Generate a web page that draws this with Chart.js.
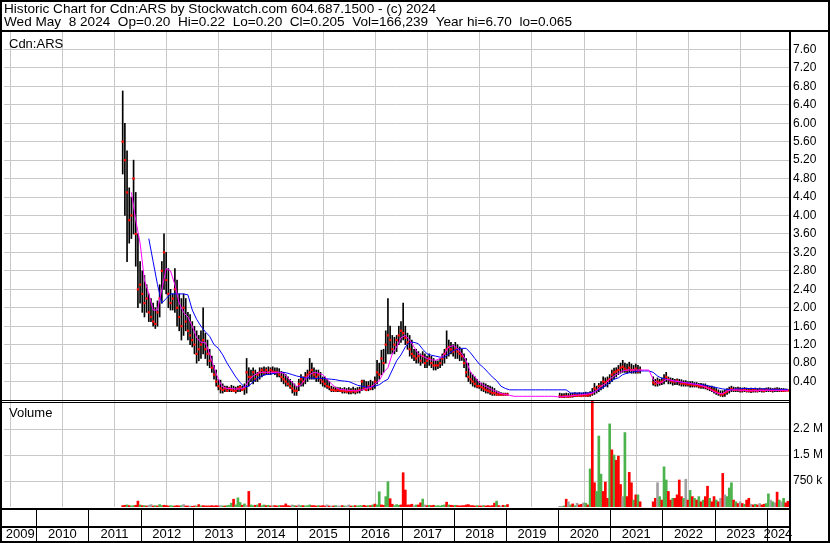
<!DOCTYPE html>
<html>
<head>
<meta charset="utf-8">
<title>Cdn:ARS historic chart</title>
<script src="https://cdn.jsdelivr.net/npm/chart.js@4.4.1/dist/chart.umd.min.js"></script>
<style>
  html, body { margin: 0; padding: 0; background: #fff; }
  canvas { display: block; }
</style>
</head>
<body>
<canvas id="myChart" width="830" height="543"></canvas>
<script>
const titleLine1 = 'Historic Chart for Cdn:ARS by Stockwatch.com 604.687.1500 - (c) 2024';
const titleLine2 = 'Wed May  8 2024  Op=0.20  Hi=0.22  Lo=0.20  Cl=0.205  Vol=166,239  Year hi=6.70  lo=0.065';
const symbolLabel = 'Cdn:ARS';
const volumeLabel = 'Volume';

const years = [2009, 2010, 2011, 2012, 2013, 2014, 2015, 2016, 2017, 2018, 2019, 2020, 2021, 2022, 2023, 2024];
const axisStart = 2009.381;
const axisEnd = 2024.426;

const priceTicks = [0.4, 0.8, 1.2, 1.6, 2.0, 2.4, 2.8, 3.2, 3.6, 4.0, 4.4, 4.8, 5.2, 5.6, 6.0, 6.4, 6.8, 7.2, 7.6];
const volumeTicks = [750000, 1500000, 2250000];
const volumeTickLabels = ['750 k', '1.5 M', '2.2 M'];

// twice-monthly samples starting mid Aug 2011
const firstSample = 2011.656;
const samplesPerYear = 24;

const priceHigh = [
  6.70, 6.00, 5.40, 4.60, 4.40, 5.20, 4.50, 3.60, 3.00, 2.80,
  2.70, 2.50, 2.30, 2.20, 2.10, 2.00, 2.15, 2.50, 3.00, 3.60,
  3.20, 2.85, 2.40, 2.30, 2.85, 2.60, 2.30, 2.20, 2.30, 2.20,
  1.90, 1.85, 1.70, 1.60, 1.50, 1.40, 1.50, 2.00, 1.45, 1.30,
  1.10, 0.95, 0.75, 0.65, 0.45, 0.43, 0.35, 0.30, 0.30, 0.28,
  0.32, 0.30, 0.28, 0.30, 0.32, 0.30, 0.35, 0.90, 0.70, 0.65,
  0.70, 0.65, 0.60, 0.70, 0.70, 0.72, 0.70, 0.72, 0.70, 0.72,
  0.70, 0.70, 0.68, 0.62, 0.60, 0.55, 0.50, 0.45, 0.40, 0.35,
  0.30, 0.45, 0.55, 0.50, 0.60, 0.65, 0.90, 0.80, 0.70, 0.65,
  0.65, 0.60, 0.50, 0.50, 0.45, 0.40, 0.30, 0.28, 0.28, 0.27,
  0.27, 0.25, 0.27, 0.25, 0.27, 0.25, 0.28, 0.25, 0.27, 0.28,
  0.43, 0.43, 0.40, 0.40, 0.43, 0.40, 0.50, 0.86, 0.80, 1.08,
  1.10, 1.50, 2.20, 1.60, 1.40, 1.36, 1.40, 1.60, 1.70, 2.10,
  1.60, 1.45, 1.40, 1.30, 1.10, 1.10, 1.05, 1.00, 1.05, 1.00,
  0.95, 1.00, 0.95, 0.90, 0.85, 0.85, 0.90, 1.00, 1.10, 1.50,
  1.30, 1.25, 1.20, 1.25, 1.20, 1.15, 1.10, 1.00, 0.90, 0.80,
  0.60, 0.55, 0.50, 0.45, 0.40, 0.37, 0.37, 0.35, 0.32, 0.30,
  0.28, 0.25, 0.20, 0.18, 0.16, 0.15, 0.15, 0.15,
  // halted
  null, null, null, null, null, null, null, null, null, null,
  null, null, null, null, null, null, null, null, null, null,
  null, null, null,
  0.15, 0.14, 0.14, 0.15, 0.14, 0.15, 0.15, 0.16, 0.15, 0.16,
  0.15, 0.16, 0.17, 0.16, 0.18, 0.25, 0.36, 0.30, 0.36, 0.40,
  0.50, 0.48, 0.50, 0.55, 0.65, 0.69, 0.70, 0.75, 0.80, 0.86,
  0.80, 0.78, 0.82, 0.78, 0.75, 0.78, 0.75, 0.72,
  null, null, null, null, null,
  0.50, 0.45, 0.48, 0.45, 0.48, 0.55, 0.60,
  0.50, 0.48, 0.47, 0.45, 0.46, 0.45, 0.44, 0.42, 0.42, 0.40,
  0.40, 0.40, 0.38, 0.38, 0.36, 0.36, 0.35, 0.35, 0.32, 0.30,
  0.30, 0.28, 0.25, 0.22, 0.20, 0.20, 0.22, 0.25, 0.28, 0.30,
  0.28, 0.27, 0.28, 0.27, 0.26, 0.27, 0.26, 0.25, 0.26, 0.25,
  0.26, 0.25, 0.26, 0.25, 0.25, 0.26, 0.27, 0.26, 0.25, 0.26,
  0.27, 0.26, 0.25, 0.25, 0.24, 0.22
];

const priceLow = [
  4.90, 4.00, 3.00, 3.40, 3.50, 3.60, 2.90, 2.00, 2.10, 1.90,
  1.80, 1.90, 1.70, 1.70, 1.60, 1.55, 1.60, 1.80, 2.10, 2.40,
  2.30, 2.00, 1.95, 1.95, 1.90, 1.60, 1.50, 1.30, 1.40, 1.50,
  1.30, 1.20, 1.15, 1.00, 0.80, 0.85, 0.90, 1.00, 0.90, 0.75,
  0.70, 0.60, 0.45, 0.30, 0.22, 0.15, 0.15, 0.18, 0.18, 0.18,
  0.18, 0.18, 0.15, 0.18, 0.18, 0.20, 0.12, 0.15, 0.30, 0.40,
  0.35, 0.40, 0.40, 0.45, 0.50, 0.55, 0.55, 0.55, 0.55, 0.58,
  0.55, 0.50, 0.50, 0.40, 0.35, 0.30, 0.30, 0.25, 0.15, 0.10,
  0.10, 0.20, 0.30, 0.30, 0.35, 0.40, 0.45, 0.45, 0.45, 0.40,
  0.40, 0.35, 0.30, 0.28, 0.25, 0.22, 0.18, 0.18, 0.18, 0.18,
  0.18, 0.15, 0.15, 0.15, 0.13, 0.13, 0.15, 0.13, 0.15, 0.15,
  0.20, 0.22, 0.20, 0.20, 0.22, 0.22, 0.25, 0.35, 0.45, 0.55,
  0.60, 0.80, 1.00, 1.00, 1.00, 1.00, 1.05, 1.20, 1.25, 1.30,
  1.20, 1.10, 0.95, 0.90, 0.85, 0.80, 0.80, 0.75, 0.80, 0.70,
  0.70, 0.75, 0.70, 0.65, 0.65, 0.68, 0.70, 0.75, 0.80, 0.90,
  0.95, 1.00, 0.95, 0.90, 0.90, 0.85, 0.86, 0.70, 0.50, 0.40,
  0.35, 0.30, 0.28, 0.26, 0.25, 0.20, 0.18, 0.15, 0.15, 0.12,
  0.10, 0.10, 0.10, 0.10, 0.10, 0.10, 0.10, 0.10,
  null, null, null, null, null, null, null, null, null, null,
  null, null, null, null, null, null, null, null, null, null,
  null, null, null,
  0.05, 0.05, 0.05, 0.06, 0.05, 0.06, 0.06, 0.07, 0.07, 0.08,
  0.07, 0.08, 0.08, 0.07, 0.08, 0.10, 0.12, 0.15, 0.18, 0.22,
  0.25, 0.30, 0.28, 0.35, 0.40, 0.45, 0.50, 0.55, 0.58, 0.60,
  0.60, 0.58, 0.60, 0.58, 0.58, 0.58, 0.58, 0.58,
  null, null, null, null, null,
  0.32, 0.30, 0.30, 0.32, 0.33, 0.35, 0.40,
  0.35, 0.35, 0.32, 0.33, 0.33, 0.32, 0.30, 0.30, 0.30, 0.30,
  0.28, 0.28, 0.28, 0.28, 0.26, 0.25, 0.25, 0.24, 0.22, 0.20,
  0.18, 0.15, 0.12, 0.10, 0.08, 0.07, 0.08, 0.12, 0.15, 0.18,
  0.18, 0.18, 0.18, 0.17, 0.17, 0.18, 0.17, 0.17, 0.16, 0.17,
  0.17, 0.17, 0.18, 0.17, 0.17, 0.18, 0.18, 0.18, 0.17, 0.18,
  0.18, 0.18, 0.18, 0.18, 0.19, 0.20
];

const priceClose = [
  5.60, 5.20, 4.50, 3.90, 4.00, 4.80, 3.60, 2.40, 2.50, 2.30,
  2.10, 2.20, 1.90, 1.80, 1.70, 1.65, 1.90, 2.20, 2.80, 3.20,
  2.60, 2.30, 2.10, 2.20, 2.40, 2.00, 1.80, 1.60, 2.00, 1.70,
  1.50, 1.40, 1.30, 1.20, 1.00, 1.10, 1.20, 1.30, 1.10, 1.00,
  0.85, 0.70, 0.55, 0.40, 0.30, 0.25, 0.22, 0.25, 0.20, 0.25,
  0.22, 0.20, 0.20, 0.25, 0.28, 0.22, 0.25, 0.60, 0.50, 0.50,
  0.60, 0.45, 0.55, 0.60, 0.65, 0.60, 0.65, 0.60, 0.65, 0.62,
  0.60, 0.60, 0.55, 0.50, 0.45, 0.40, 0.35, 0.30, 0.25, 0.20,
  0.20, 0.35, 0.45, 0.40, 0.50, 0.55, 0.60, 0.65, 0.55, 0.50,
  0.55, 0.45, 0.40, 0.35, 0.30, 0.28, 0.22, 0.22, 0.20, 0.22,
  0.20, 0.20, 0.20, 0.18, 0.20, 0.18, 0.20, 0.18, 0.20, 0.22,
  0.40, 0.25, 0.22, 0.30, 0.25, 0.30, 0.40, 0.60, 0.55, 0.90,
  0.80, 1.20, 1.40, 1.30, 1.10, 1.20, 1.30, 1.40, 1.50, 1.45,
  1.35, 1.25, 1.10, 1.00, 0.95, 0.90, 0.95, 0.85, 0.95, 0.80,
  0.85, 0.90, 0.80, 0.75, 0.75, 0.75, 0.80, 0.90, 1.00, 1.10,
  1.15, 1.10, 1.05, 1.10, 1.05, 1.00, 0.95, 0.80, 0.60, 0.50,
  0.45, 0.40, 0.35, 0.30, 0.30, 0.28, 0.25, 0.22, 0.20, 0.18,
  0.15, 0.15, 0.12, 0.12, 0.12, 0.12, 0.12, 0.12,
  null, null, null, null, null, null, null, null, null, null,
  null, null, null, null, null, null, null, null, null, null,
  null, null, null,
  0.08, 0.07, 0.08, 0.08, 0.07, 0.08, 0.09, 0.10, 0.09, 0.10,
  0.09, 0.10, 0.10, 0.10, 0.12, 0.15, 0.25, 0.22, 0.30, 0.30,
  0.40, 0.38, 0.42, 0.45, 0.55, 0.60, 0.62, 0.65, 0.70, 0.72,
  0.68, 0.65, 0.70, 0.65, 0.65, 0.68, 0.62, 0.65,
  null, null, null, null, null,
  0.38, 0.35, 0.40, 0.38, 0.40, 0.45, 0.50,
  0.45, 0.42, 0.40, 0.40, 0.42, 0.38, 0.36, 0.36, 0.35, 0.34,
  0.34, 0.33, 0.32, 0.32, 0.30, 0.30, 0.30, 0.28, 0.26, 0.25,
  0.22, 0.20, 0.18, 0.15, 0.12, 0.12, 0.15, 0.18, 0.22, 0.24,
  0.22, 0.22, 0.23, 0.21, 0.21, 0.22, 0.20, 0.20, 0.20, 0.21,
  0.21, 0.20, 0.22, 0.21, 0.20, 0.22, 0.22, 0.21, 0.21, 0.22,
  0.22, 0.21, 0.21, 0.20, 0.21, 0.205
];

// thousands of shares
const volumeK = [
  40, 50, 60, 40, 30, 40, 50, 170, 60, 40,
  40, 30, 50, 70, 30, 40, 30, 70, 40, 50,
  40, 30, 40, 30, 30, 40, 30, 40, 70, 30,
  30, 30, 20, 30, 30, 70, 30, 40, 30, 30,
  30, 40, 30, 40, 30, 40, 30, 30, 40, 50,
  110, 225, 60, 265, 130, 50, 90, 40, 450, 60,
  40, 50, 60, 100, 40, 60, 40, 50, 30, 40,
  40, 30, 40, 40, 40, 90, 40, 30, 60, 40,
  30, 60, 40, 40, 30, 40, 60, 40, 40, 30,
  40, 30, 40, 30, 60, 30, 30, 30, 40, 30,
  30, 40, 30, 30, 60, 30, 30, 40, 30, 40,
  40, 50, 30, 40, 40, 60, 85, 60, 440, 60,
  50, 300, 730, 240, 80, 40, 70, 50, 60, 990,
  490, 60, 60, 80, 40, 60, 60, 120, 230, 60,
  40, 50, 40, 50, 30, 40, 30, 50, 60, 140,
  60, 50, 40, 50, 40, 30, 40, 40, 60, 70,
  40, 40, 30, 40, 30, 30, 40, 30, 40, 30,
  40, 110, 170, 40, 30, 50, 40, 70,
  null, null, null, null, null, null, null, null, null, null,
  null, null, null, null, null, null, null, null, null, null,
  null, null, null,
  20, 20, 30, 225, 150, 60, 90, 40, 110, 60,
  80, 120, 110, 60, 1100, 3050, 700, 450, 2050, 950,
  450, 720, 250, 2400, 1650, 1500, 1350, 1470, 650, 300,
  2150, 300, 1000, 700, 200, 350, 350, 150,
  null, null, null, null, null,
  150, 250, 700, 300, 200, 1160, 780,
  450, 200, 250, 250, 350, 780, 300, 250, 800, 200,
  480, 300, 250, 200, 300, 150, 200, 300, 600, 250,
  150, 300, 200, 150, 250, 970, 350, 300, 550, 700,
  200, 150, 100, 150, 100, 80, 200, 250, 80, 60,
  80, 60, 100, 60, 80, 100, 380, 200, 150, 120,
  430, 200, 150, 250, 120, 166
];

// u = up week, d = down week, n = unchanged
const volumeSide = [
  'dduduuddud', 'udnnduduud', 'dduudddund', 'dnddududdd', 'dddddnuduu',
  'uduuudundu', 'ududuududn', 'ddudddddnu', 'dnuduuuddd', 'udddndndun',
  'ndunnduduu', 'uddududuud', 'duudduuudd', 'ddddnuddun', 'dudduuuuud',
  'uddudddddd', 'dddudduddd', 'ddudndud',
  '.......................',
  'nnudnudund', 'dnududduuu', 'dddududddn', 'udddudud', '.....',
  'ddnuduu', 'dduddddund', 'ududududdu', 'ddudndnuuu', 'dudnduddnd',
  'udndduunun', 'dunudd'
].join('');

// monthly moving averages
const avgFirst = 2011.656;
const avgPerYear = 12;

const avgFast = [
  null, null, 4.5, 3.9, 3.4, 2.6, 2.3, 1.95, 1.95, 2.4,
  2.85, 2.8, 2.5, 2.1, 1.9, 1.8, 1.6, 1.35, 1.25, 1.25,
  1.0, 0.7, 0.45, 0.28, 0.25, 0.25, 0.24, 0.24, 0.27, 0.42,
  0.52, 0.58, 0.6, 0.6, 0.6, 0.6, 0.6, 0.58, 0.48, 0.38,
  0.28, 0.33, 0.45, 0.55, 0.6, 0.58, 0.55, 0.45, 0.35, 0.27,
  0.23, 0.22, 0.21, 0.2, 0.2, 0.22, 0.25, 0.27, 0.35, 0.42,
  0.6, 0.7, 1.0, 1.15, 1.35, 1.4, 1.3, 1.15, 1.0, 0.95,
  0.9, 0.87, 0.86, 0.9, 1.0, 1.15, 1.18, 1.12, 1.0, 0.85,
  0.6, 0.5, 0.38, 0.32, 0.27, 0.22, 0.18, 0.14, 0.12, 0.1,
  0.08, 0.08, 0.08, 0.08, 0.08, 0.08, 0.08, 0.08, 0.08, 0.08,
  0.07, 0.07, 0.08, 0.09, 0.1, 0.11, 0.12, 0.13, 0.15, 0.2,
  0.3, 0.35, 0.45, 0.52, 0.58, 0.63, 0.65, 0.65, 0.65, 0.65,
  0.65, 0.65, 0.45, 0.36, 0.38, 0.45, 0.43, 0.41, 0.4, 0.38,
  0.37, 0.35, 0.34, 0.32, 0.28, 0.24, 0.18, 0.14, 0.14, 0.2,
  0.22, 0.22, 0.21, 0.21, 0.2, 0.2, 0.2, 0.21, 0.21, 0.21,
  0.21, 0.21, 0.21, 0.21
];

const avgSlow = [
  null, null, null, null, null, null, 3.5, 3.0, 2.5, 2.1,
  2.2, 2.3, 2.3, 2.3, 2.3, 2.28, 1.95, 1.75, 1.6, 1.48,
  1.38, 1.2, 1.12, 0.98, 0.8, 0.65, 0.5, 0.38, 0.28, 0.3,
  0.4, 0.47, 0.52, 0.55, 0.56, 0.58, 0.6, 0.6, 0.58, 0.55,
  0.52, 0.5, 0.48, 0.48, 0.47, 0.47, 0.47, 0.46, 0.45, 0.44,
  0.42, 0.41, 0.4, 0.36, 0.32, 0.3, 0.28, 0.28, 0.3, 0.33,
  0.4, 0.45, 0.65, 0.85, 0.98, 1.15, 1.25, 1.25, 1.22, 1.1,
  1.0, 0.97, 0.95, 0.93, 0.93, 1.0, 1.07, 1.1, 1.12, 1.12,
  1.02, 0.9, 0.78, 0.7, 0.6, 0.5, 0.42, 0.3, 0.25, 0.22,
  0.22, 0.22, 0.22, 0.22, 0.22, 0.22, 0.22, 0.22, 0.22, 0.22,
  0.22, 0.22, 0.22, 0.15, 0.15, 0.15, 0.15, 0.15, 0.16, 0.2,
  0.25, 0.3, 0.38, 0.45, 0.48, 0.55, 0.58, 0.6, 0.62, 0.63,
  0.63, 0.63, 0.6, 0.52, 0.47, 0.45, 0.43, 0.41, 0.39, 0.38,
  0.37, 0.35, 0.34, 0.33, 0.32, 0.3, 0.28, 0.26, 0.24, 0.23,
  0.22, 0.24, 0.24, 0.25, 0.25, 0.25, 0.24, 0.24, 0.24, 0.23,
  0.23, 0.23, 0.23, 0.23
];

const sideColor = { u: 'rgb(76,178,76)', d: 'rgb(255,0,0)', n: 'rgb(160,160,160)' };

let priceBars = [];
let closeMarks = [];
let volumeBars = [];
let volumeColors = [];
priceHigh.forEach((hi, i) => {
  const t = firstSample + i / samplesPerYear;
  if (hi !== null) {
    priceBars.push({ x: t, y: [priceLow[i], hi] });
    closeMarks.push({ x: t, y: priceClose[i] });
  }
  if (volumeK[i] !== null) {
    volumeBars.push({ x: t, y: volumeK[i] * 1000 });
    volumeColors.push(sideColor[volumeSide[i]] || sideColor.n);
  }
});

let fastLine = [];
let slowLine = [];
avgFast.forEach((v, k) => { if (v !== null) fastLine.push({ x: avgFirst + k / avgPerYear, y: v }); });
avgSlow.forEach((v, k) => { if (v !== null) slowLine.push({ x: avgFirst + k / avgPerYear, y: v }); });

const fontFamily = '"Liberation Sans", Arial, sans-serif';
Chart.defaults.font.family = fontFamily;
Chart.defaults.font.size = 12;
Chart.defaults.color = '#000';

// frame, bottom year band and header texts, drawn like the stockwatch image
const chartFrame = {
  id: 'chartFrame',
  afterDraw(chart) {
    const ctx = chart.ctx;
    const xs = chart.scales.x;
    const W = chart.width;
    const H = chart.height;
    const right = Math.round(chart.chartArea.right);
    ctx.save();
    ctx.fillStyle = '#000';
    ctx.fillRect(0, 0, W, 2);
    ctx.fillRect(0, H - 2, W, 2);
    ctx.fillRect(0, 0, 2, H);
    ctx.fillRect(W - 2, 0, 2, H);
    ctx.fillRect(0, 30, W, 2);
    ctx.fillRect(right, 30, 2, H - 30);
    ctx.fillRect(0, 400, right, 1);
    ctx.fillRect(0, 402, right, 1);
    ctx.fillRect(0, 508, right, 2);
    ctx.fillRect(0, 526, right, 2);
    years.forEach(y => {
      if (y <= axisStart) return;
      const px = Math.round(xs.getPixelForValue(y));
      ctx.fillRect(px, 510, 1, H - 512);
    });
    ctx.font = '13px ' + fontFamily;
    ctx.textAlign = 'center';
    ctx.textBaseline = 'middle';
    years.forEach(y => {
      const a = xs.getPixelForValue(Math.max(y, axisStart));
      const b = xs.getPixelForValue(Math.min(y + 1, axisEnd));
      ctx.fillText(String(y), (a + b) / 2, 534);
    });
    ctx.textAlign = 'left';
    ctx.textBaseline = 'alphabetic';
    ctx.font = '13.6px ' + fontFamily;
    ctx.fillText(titleLine1, 4, 13);
    ctx.fillText(titleLine2, 4, 26);
    ctx.font = '13px ' + fontFamily;
    ctx.textBaseline = 'middle';
    ctx.fillText(symbolLabel, 9, 44);
    ctx.fillText(volumeLabel, 9, 413);
    ctx.restore();
  }
};

let ctx = document.getElementById('myChart').getContext('2d');

let arsChart = new Chart(ctx, {
  type: 'bar',
  data: {
    datasets: [
      {
        type: 'line', label: 'avg fast', data: fastLine, yAxisID: 'y',
        borderColor: 'rgb(255,0,255)', borderWidth: 1, pointRadius: 0, tension: 0, order: 0
      },
      {
        type: 'line', label: 'avg slow', data: slowLine, yAxisID: 'y',
        borderColor: 'rgb(0,0,255)', borderWidth: 1, pointRadius: 0, tension: 0, order: 1
      },
      {
        type: 'line', label: 'close', data: closeMarks, yAxisID: 'y', showLine: false,
        pointStyle: 'rect', pointRadius: 1.6, pointBorderWidth: 0,
        pointBackgroundColor: 'rgb(255,0,0)', order: 2
      },
      {
        type: 'bar', label: 'range', data: priceBars, yAxisID: 'y',
        backgroundColor: '#000', barThickness: 1, grouped: false, order: 3
      },
      {
        type: 'bar', label: 'volume', data: volumeBars, yAxisID: 'vol',
        backgroundColor: volumeColors, barThickness: 2, grouped: false, order: 4
      }
    ]
  },
  options: {
    responsive: false,
    animation: false,
    events: [],
    layout: { padding: { top: 31, left: 2, right: 0, bottom: 0 } },
    plugins: {
      legend: { display: false },
      tooltip: { enabled: false }
    },
    scales: {
      x: {
        type: 'linear',
        min: axisStart,
        max: axisEnd,
        offset: false,
        afterFit: s => { s.height = 36; },
        afterBuildTicks: s => { s.ticks = years.slice(1).map(v => ({ value: v })); },
        ticks: { display: false },
        grid: { color: 'rgb(200,200,200)', lineWidth: 1, drawTicks: false },
        border: { display: false }
      },
      y: {
        position: 'right',
        stack: 'panels',
        stackWeight: 369,
        min: 0,
        max: 8,
        afterFit: s => { s.width = 41; },
        afterBuildTicks: s => { s.ticks = priceTicks.map(v => ({ value: v })); },
        ticks: { autoSkip: false, padding: 4, color: '#000', font: { size: 12 }, callback: v => v.toFixed(2) },
        grid: { color: 'rgb(200,200,200)', lineWidth: 1, drawTicks: false },
        border: { display: false }
      },
      vol: {
        position: 'right',
        stack: 'panels',
        stackWeight: 107,
        min: 0,
        max: 3090000,
        afterFit: s => { s.width = 41; },
        afterBuildTicks: s => { s.ticks = volumeTicks.map(v => ({ value: v })); },
        ticks: { autoSkip: false, padding: 4, color: '#000', font: { size: 12 }, callback: v => volumeTickLabels[volumeTicks.indexOf(v)] },
        grid: { color: 'rgb(200,200,200)', lineWidth: 1, drawTicks: false },
        border: { display: false }
      }
    }
  },
  plugins: [chartFrame]
});
</script>
</body>
</html>
